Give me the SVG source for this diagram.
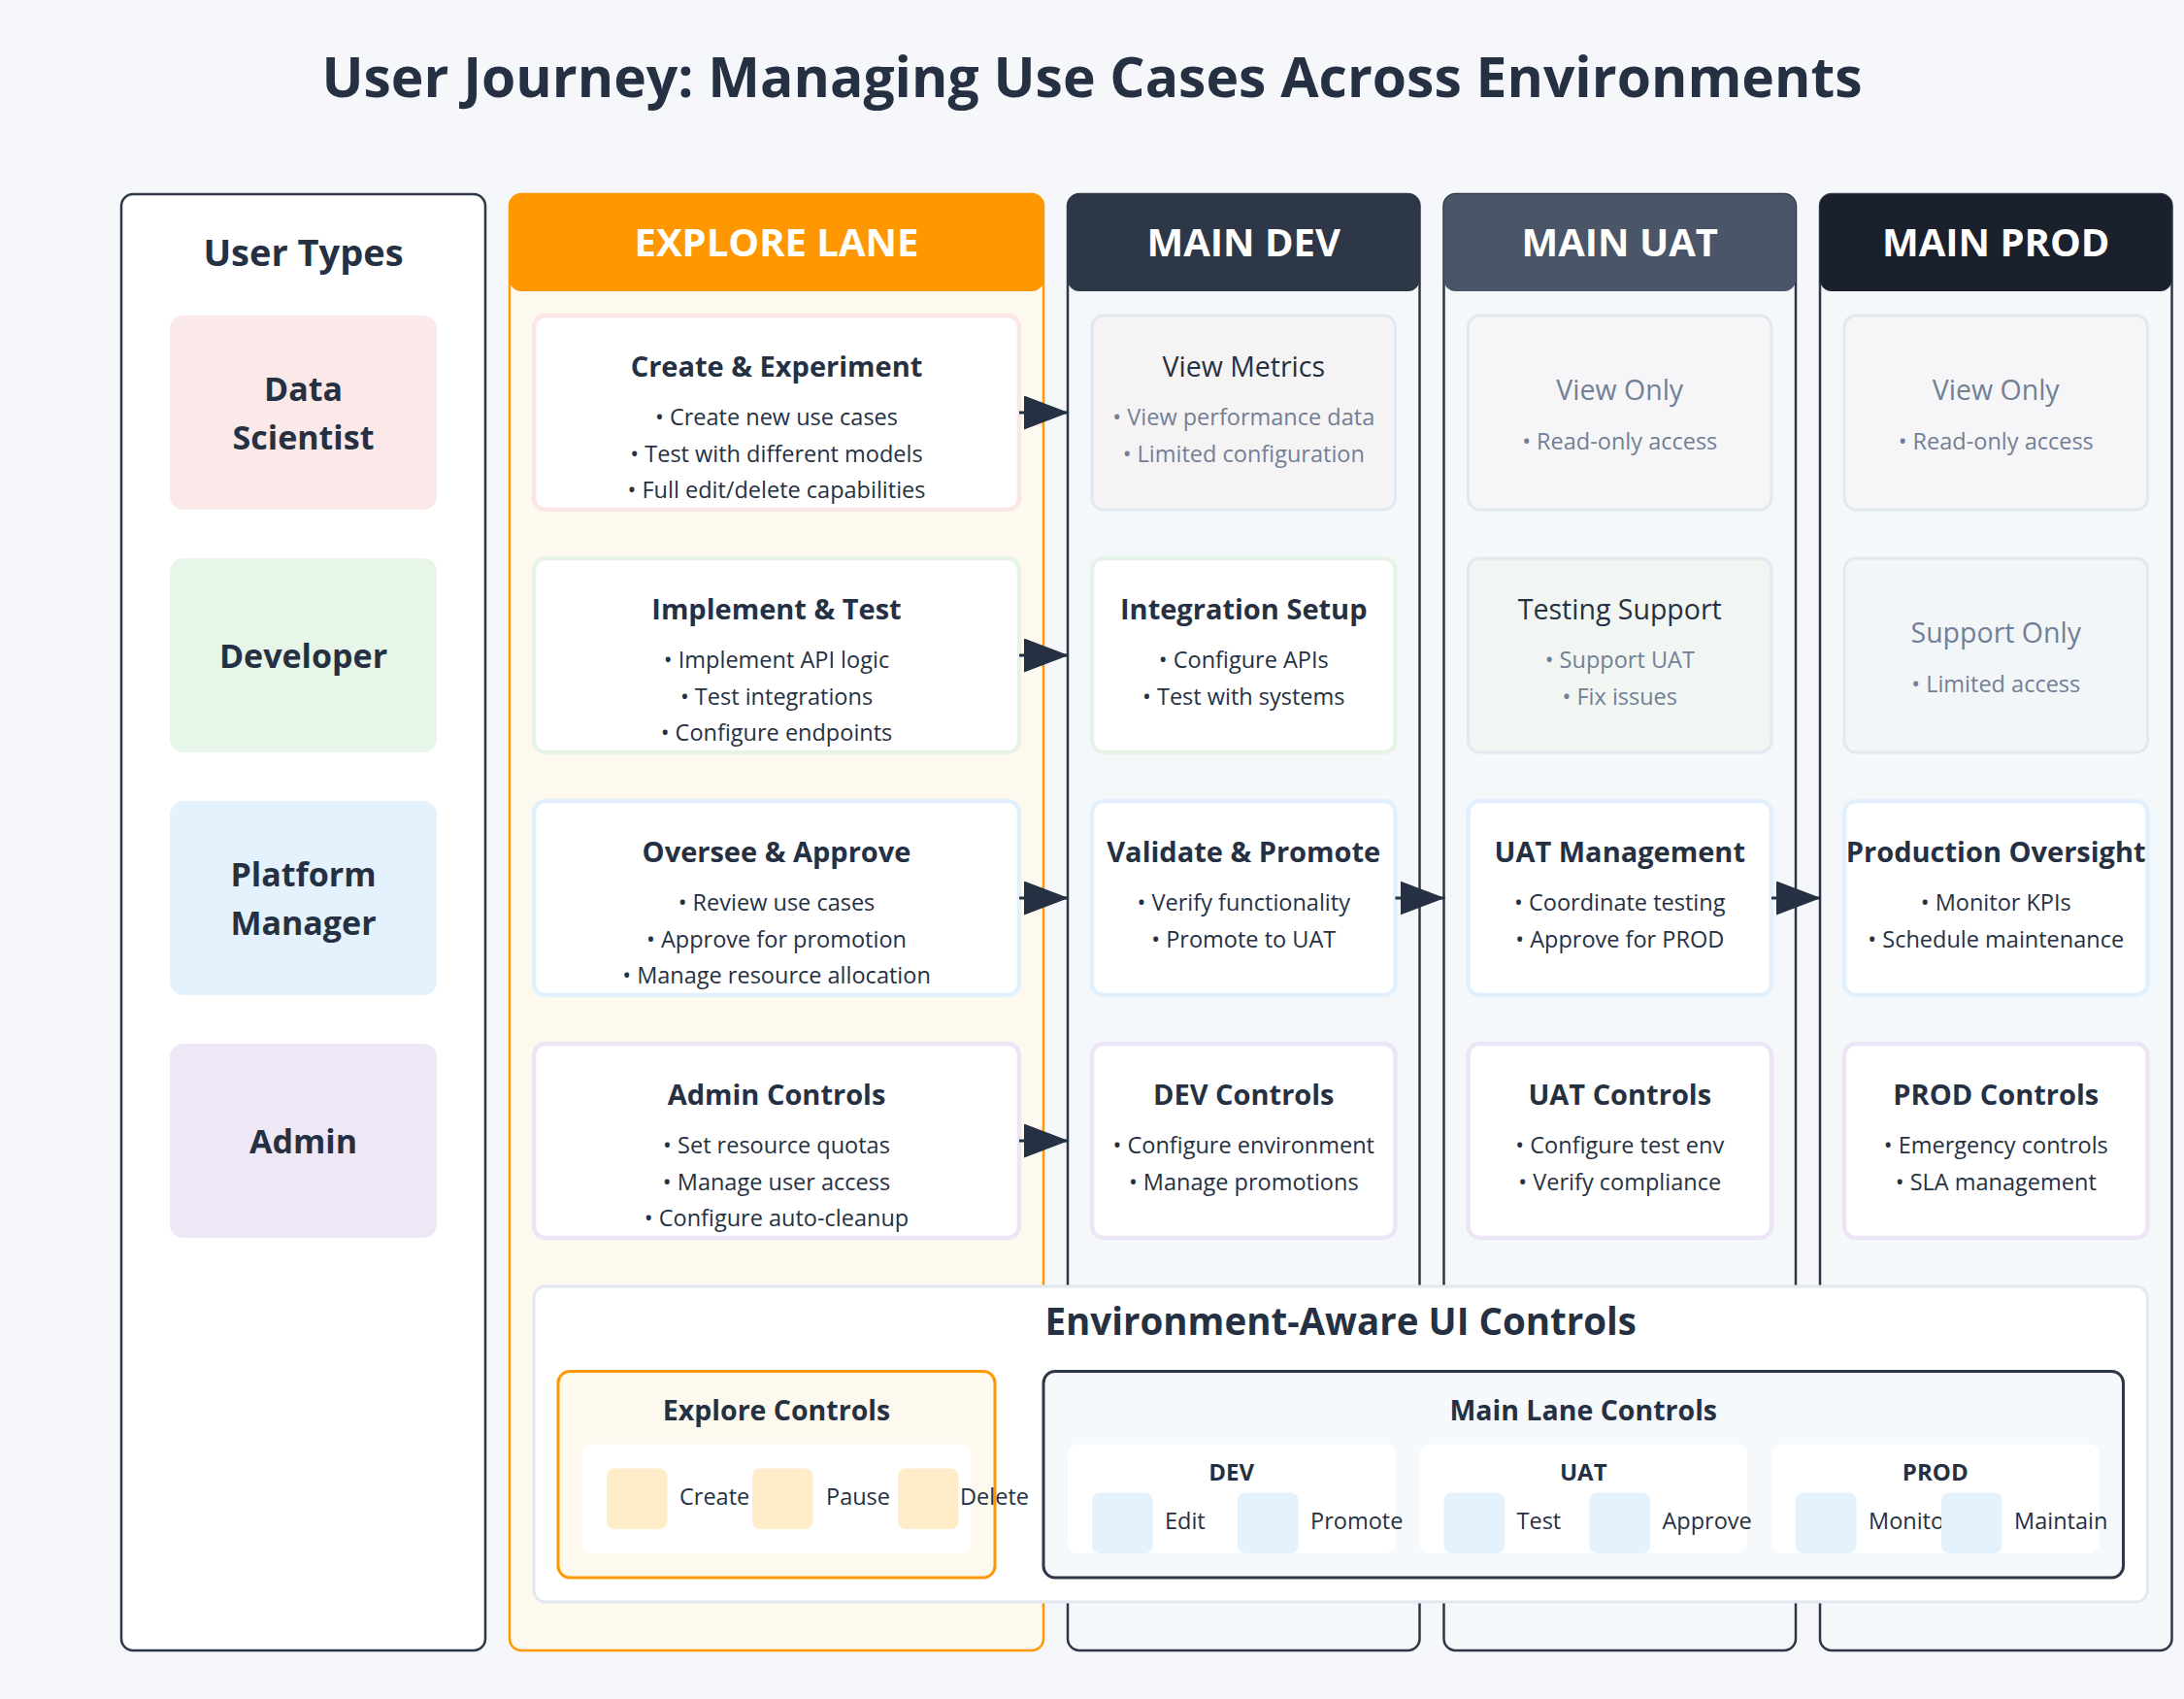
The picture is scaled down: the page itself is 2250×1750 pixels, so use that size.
<svg xmlns="http://www.w3.org/2000/svg" width="2250" height="1750" viewBox="0 0 2250 1750">
<defs>
<marker id="arrow" viewBox="0 0 46 35" refX="46" refY="17.5" markerWidth="46" markerHeight="35" markerUnits="userSpaceOnUse" orient="auto">
<path d="M0,0 L46,17.5 L0,35 z" fill="#253142"/>
</marker>
<style>
text{font-family:"Open Sans","Noto Sans","DejaVu Sans",sans-serif;fill:#253142;text-anchor:middle}
.title{font-size:57px;font-weight:700}
.hdr{font-size:40px;font-weight:700;fill:#ffffff}
.ut{font-size:38px;font-weight:700}
.ul{font-size:34px;font-weight:700}
.ct{font-size:29px;font-weight:700}
.cr{font-size:28.5px;font-weight:400}
.b{font-size:23.5px}
.muted{fill:#718096}
.bt{font-size:38.5px;font-weight:700}
.st{font-size:28.5px;font-weight:700}
.env{font-size:24px;font-weight:700}
.lbl{font-size:23.5px;text-anchor:start}
.lane-x{fill:#fef9ee;stroke:#ff9800;stroke-width:2.5}
.lane-m{fill:#f4f8fb;stroke:#2d3748;stroke-width:2.5}
.card{fill:#ffffff;stroke-width:4.5}
.mcard{stroke:#e2e8f0;stroke-width:3}
.conn{stroke:#253142;stroke-width:3;fill:none;marker-end:url(#arrow)}
.sqx{fill:#ffecc8}
.sqm{fill:#e3f2fd}
</style>
</defs>
<rect x="0" y="0" width="2250" height="1750" fill="#f5f7fa"/>
<text id="title" class="title" x="1125" y="100">User Journey: Managing Use Cases Across Environments</text>

<g id="user-types">
<rect x="125" y="200" width="375" height="1500" rx="12" fill="#ffffff" stroke="#2d3748" stroke-width="2.5"/>
<text class="ut" x="312.5" y="274">User Types</text>
</g>
<g id="user-data-scientist">
<rect x="175" y="325" width="275" height="200" rx="14" fill="#fbe8e8"/>
<text class="ul" x="312.5" y="413">Data</text>
<text class="ul" x="312.5" y="463">Scientist</text>
</g>
<g id="user-developer">
<rect x="175" y="575" width="275" height="200" rx="14" fill="#e8f5e9"/>
<text class="ul" x="312.5" y="688">Developer</text>
</g>
<g id="user-platform-manager">
<rect x="175" y="825" width="275" height="200" rx="14" fill="#e3f2fd"/>
<text class="ul" x="312.5" y="913">Platform</text>
<text class="ul" x="312.5" y="963">Manager</text>
</g>
<g id="user-admin">
<rect x="175" y="1075" width="275" height="200" rx="14" fill="#ede7f6"/>
<text class="ul" x="312.5" y="1188">Admin</text>
</g>

<g id="lane-explore">
<rect class="lane-x" x="525" y="200" width="550" height="1500" rx="12"/>
<rect x="525" y="200" width="550" height="100" rx="12" fill="#ff9800"/>
<text class="hdr" x="800" y="264">EXPLORE LANE</text>
</g>
<g id="lane-dev">
<rect class="lane-m" x="1100" y="200" width="362.5" height="1500" rx="12"/>
<rect x="1100" y="200" width="362.5" height="100" rx="12" fill="#2d3748"/>
<text class="hdr" x="1281.25" y="264">MAIN DEV</text>
</g>
<g id="lane-uat">
<rect class="lane-m" x="1487.5" y="200" width="362.5" height="1500" rx="12"/>
<rect x="1487.5" y="200" width="362.5" height="100" rx="12" fill="#4a5568"/>
<text class="hdr" x="1668.75" y="264">MAIN UAT</text>
</g>
<g id="lane-prod">
<rect class="lane-m" x="1875" y="200" width="362.5" height="1500" rx="12"/>
<rect x="1875" y="200" width="362.5" height="100" rx="12" fill="#1a202c"/>
<text class="hdr" x="2056.25" y="264">MAIN PROD</text>
</g>

<!-- Explore cards -->
<g id="explore-create">
<rect class="card" x="550" y="325" width="500" height="200" rx="12" stroke="#fbe6e6"/>
<text class="ct" x="800" y="388">Create &amp; Experiment</text>
<text class="b" x="800" y="438">• Create new use cases</text>
<text class="b" x="800" y="475.5">• Test with different models</text>
<text class="b" x="800" y="513">• Full edit/delete capabilities</text>
</g>
<g id="explore-implement">
<rect class="card" x="550" y="575" width="500" height="200" rx="12" stroke="#e6f4e8"/>
<text class="ct" x="800" y="638">Implement &amp; Test</text>
<text class="b" x="800" y="688">• Implement API logic</text>
<text class="b" x="800" y="725.5">• Test integrations</text>
<text class="b" x="800" y="763">• Configure endpoints</text>
</g>
<g id="explore-oversee">
<rect class="card" x="550" y="825" width="500" height="200" rx="12" stroke="#e1f0fc"/>
<text class="ct" x="800" y="888">Oversee &amp; Approve</text>
<text class="b" x="800" y="938">• Review use cases</text>
<text class="b" x="800" y="975.5">• Approve for promotion</text>
<text class="b" x="800" y="1013">• Manage resource allocation</text>
</g>
<g id="explore-admin">
<rect class="card" x="550" y="1075" width="500" height="200" rx="12" stroke="#ece5f5"/>
<text class="ct" x="800" y="1138">Admin Controls</text>
<text class="b" x="800" y="1188">• Set resource quotas</text>
<text class="b" x="800" y="1225.5">• Manage user access</text>
<text class="b" x="800" y="1263">• Configure auto-cleanup</text>
</g>

<!-- DEV cards -->
<g id="dev-metrics">
<rect class="mcard" x="1125" y="325" width="312.5" height="200" rx="12" fill="#f6f3f5"/>
<text class="cr" x="1281.25" y="388">View Metrics</text>
<text class="b muted" x="1281.25" y="438">• View performance data</text>
<text class="b muted" x="1281.25" y="475.5">• Limited configuration</text>
</g>
<g id="dev-integration">
<rect class="card" x="1125" y="575" width="312.5" height="200" rx="12" stroke="#e6f4e8"/>
<text class="ct" x="1281.25" y="638">Integration Setup</text>
<text class="b" x="1281.25" y="688">• Configure APIs</text>
<text class="b" x="1281.25" y="725.5">• Test with systems</text>
</g>
<g id="dev-validate">
<rect class="card" x="1125" y="825" width="312.5" height="200" rx="12" stroke="#e1f0fc"/>
<text class="ct" x="1281.25" y="888">Validate &amp; Promote</text>
<text class="b" x="1281.25" y="938">• Verify functionality</text>
<text class="b" x="1281.25" y="975.5">• Promote to UAT</text>
</g>
<g id="dev-controls">
<rect class="card" x="1125" y="1075" width="312.5" height="200" rx="12" stroke="#ece5f5"/>
<text class="ct" x="1281.25" y="1138">DEV Controls</text>
<text class="b" x="1281.25" y="1188">• Configure environment</text>
<text class="b" x="1281.25" y="1225.5">• Manage promotions</text>
</g>

<!-- UAT cards -->
<g id="uat-view">
<rect class="mcard" x="1512.5" y="325" width="312.5" height="200" rx="12" fill="#f6f6f8"/>
<text class="cr muted" x="1668.75" y="412">View Only</text>
<text class="b muted" x="1668.75" y="463">• Read-only access</text>
</g>
<g id="uat-testing">
<rect class="mcard" x="1512.5" y="575" width="312.5" height="200" rx="12" fill="#f1f6f3"/>
<text class="cr" x="1668.75" y="638">Testing Support</text>
<text class="b muted" x="1668.75" y="688">• Support UAT</text>
<text class="b muted" x="1668.75" y="725.5">• Fix issues</text>
</g>
<g id="uat-management">
<rect class="card" x="1512.5" y="825" width="312.5" height="200" rx="12" stroke="#e1f0fc"/>
<text class="ct" x="1668.75" y="888">UAT Management</text>
<text class="b" x="1668.75" y="938">• Coordinate testing</text>
<text class="b" x="1668.75" y="975.5">• Approve for PROD</text>
</g>
<g id="uat-controls">
<rect class="card" x="1512.5" y="1075" width="312.5" height="200" rx="12" stroke="#ece5f5"/>
<text class="ct" x="1668.75" y="1138">UAT Controls</text>
<text class="b" x="1668.75" y="1188">• Configure test env</text>
<text class="b" x="1668.75" y="1225.5">• Verify compliance</text>
</g>

<!-- PROD cards -->
<g id="prod-view">
<rect class="mcard" x="1900" y="325" width="312.5" height="200" rx="12" fill="#f6f6f8"/>
<text class="cr muted" x="2056.25" y="412">View Only</text>
<text class="b muted" x="2056.25" y="463">• Read-only access</text>
</g>
<g id="prod-support">
<rect class="mcard" x="1900" y="575" width="312.5" height="200" rx="12" fill="#f3f6f8"/>
<text class="cr muted" x="2056.25" y="662">Support Only</text>
<text class="b muted" x="2056.25" y="713">• Limited access</text>
</g>
<g id="prod-oversight">
<rect class="card" x="1900" y="825" width="312.5" height="200" rx="12" stroke="#e1f0fc"/>
<text class="ct" x="2056.25" y="888">Production Oversight</text>
<text class="b" x="2056.25" y="938">• Monitor KPIs</text>
<text class="b" x="2056.25" y="975.5">• Schedule maintenance</text>
</g>
<g id="prod-controls">
<rect class="card" x="1900" y="1075" width="312.5" height="200" rx="12" stroke="#ece5f5"/>
<text class="ct" x="2056.25" y="1138">PROD Controls</text>
<text class="b" x="2056.25" y="1188">• Emergency controls</text>
<text class="b" x="2056.25" y="1225.5">• SLA management</text>
</g>

<g id="connectors">
<line class="conn" x1="1050" y1="425" x2="1101" y2="425"/>
<line class="conn" x1="1050" y1="675" x2="1101" y2="675"/>
<line class="conn" x1="1050" y1="925" x2="1101" y2="925"/>
<line class="conn" x1="1437.5" y1="925" x2="1488.5" y2="925"/>
<line class="conn" x1="1825" y1="925" x2="1876" y2="925"/>
<line class="conn" x1="1050" y1="1175" x2="1101" y2="1175"/>
</g>

<g id="ui-controls">
<rect x="550" y="1325" width="1662.5" height="325" rx="12" fill="#ffffff" stroke="#e2e8f0" stroke-width="3"/>
<text class="bt" x="1381.25" y="1375">Environment-Aware UI Controls</text>
</g>
<g id="explore-controls">
<rect x="575" y="1412.5" width="450" height="212.5" rx="12" fill="#fef9ee" stroke="#ff9800" stroke-width="3"/>
<text class="st" x="800" y="1463">Explore Controls</text>
<rect x="600" y="1487.5" width="400" height="112.5" rx="10" fill="#ffffff"/>
<rect class="sqx" x="625" y="1512.5" width="62.5" height="62.5" rx="8"/>
<text class="lbl" x="700" y="1550">Create</text>
<rect class="sqx" x="775" y="1512.5" width="62.5" height="62.5" rx="8"/>
<text class="lbl" x="851" y="1550">Pause</text>
<rect class="sqx" x="925" y="1512.5" width="62.5" height="62.5" rx="8"/>
<text class="lbl" x="989" y="1550">Delete</text>
</g>
<g id="main-lane-controls">
<rect x="1075" y="1412.5" width="1112.5" height="212.5" rx="12" fill="#f5f9fc" stroke="#2d3748" stroke-width="3"/>
<text class="st" x="1631.25" y="1463">Main Lane Controls</text>
<rect x="1100" y="1487.5" width="337.5" height="112.5" rx="10" fill="#ffffff"/>
<text class="env" x="1268.75" y="1525">DEV</text>
<rect class="sqm" x="1125" y="1537.5" width="62.5" height="62.5" rx="8"/>
<text class="lbl" x="1200" y="1575">Edit</text>
<rect class="sqm" x="1275" y="1537.5" width="62.5" height="62.5" rx="8"/>
<text class="lbl" x="1350" y="1575">Promote</text>
<rect x="1462.5" y="1487.5" width="337.5" height="112.5" rx="10" fill="#ffffff"/>
<text class="env" x="1631.25" y="1525">UAT</text>
<rect class="sqm" x="1487.5" y="1537.5" width="62.5" height="62.5" rx="8"/>
<text class="lbl" x="1562.5" y="1575">Test</text>
<rect class="sqm" x="1637.5" y="1537.5" width="62.5" height="62.5" rx="8"/>
<text class="lbl" x="1712.5" y="1575">Approve</text>
<rect x="1825" y="1487.5" width="337.5" height="112.5" rx="10" fill="#ffffff"/>
<text class="env" x="1993.75" y="1525">PROD</text>
<rect class="sqm" x="1850" y="1537.5" width="62.5" height="62.5" rx="8"/>
<text class="lbl" x="1925" y="1575">Monitor</text>
<rect class="sqm" x="2000" y="1537.5" width="62.5" height="62.5" rx="8"/>
<text class="lbl" x="2075" y="1575">Maintain</text>
</g>
</svg>
